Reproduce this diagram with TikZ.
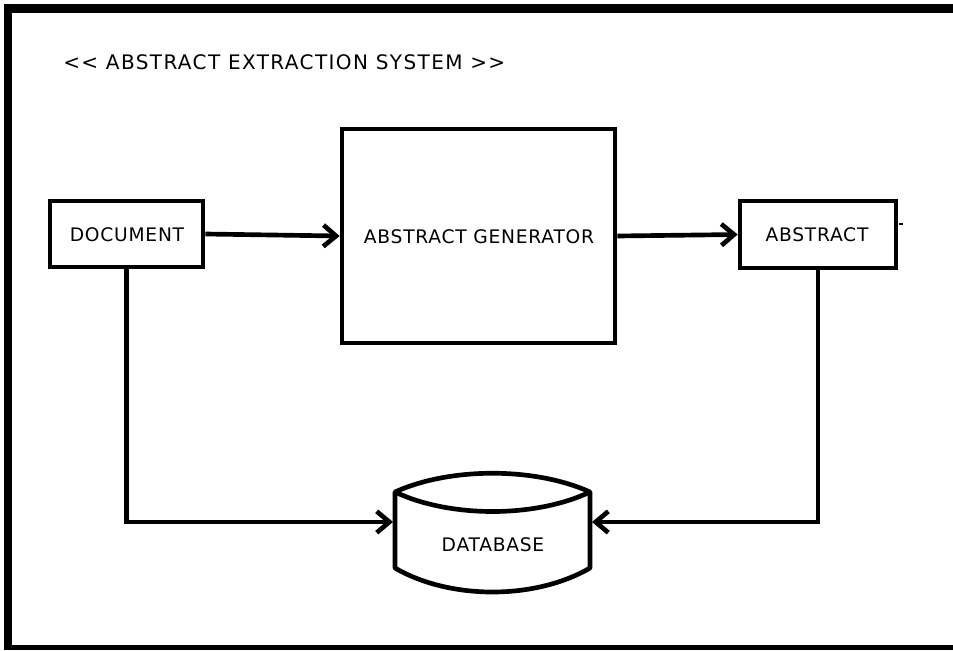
\documentclass[tikz,border=0pt]{standalone}
\usepackage{fontspec}
\setmainfont{DejaVu Sans}
\newfontfamily\labelfont[LetterSpace=4]{DejaVu Sans}
\newfontfamily\titlefont[LetterSpace=7]{DejaVu Sans}
\usetikzlibrary{arrows.meta}
\begin{document}
\begin{tikzpicture}[x=0.75pt,y=-0.75pt,
  box/.style={draw,line width=3.5pt,inner sep=0pt},
  label/.style={font=\labelfont\fontsize{14pt}{16pt}\selectfont,inner sep=0pt},
  flow/.style={line width=3.5pt,-{Straight Barb[length=9.5pt,width=16pt]}},
  link/.style={line width=3.5pt}]
\useasboundingbox (0,0) rectangle (953,650);
\fill[white] (0,0) rectangle (953,650);
% frame
\fill[black] (4,4) rectangle (953,13);
\fill[black] (4,4) rectangle (12,650);
\fill[black] (4,645) rectangle (953,650);
% title
\node[font=\titlefont\fontsize{15pt}{17pt}\selectfont,inner sep=0pt,anchor=west] (title) at (63,62) {<{}< ABSTRACT EXTRACTION SYSTEM >{}>};
% boxes (sizes in pt: px * 0.75)
\node[box,minimum width=114.75pt,minimum height=49.5pt] (doc) at (126.5,234) {};
\node[label] (doctext) at (127,235) {DOCUMENT};
\node[box,minimum width=204.75pt,minimum height=160.5pt] (gen) at (478.5,236) {};
\node[label] (gentext) at (479,237) {ABSTRACT GENERATOR};
\node[box,minimum width=117pt,minimum height=50.25pt] (abs) at (818,234.5) {};
\node[label] (abstext) at (817,235) {ABSTRACT};
% database
\coordinate (dbTL) at (395,492);
\coordinate (dbTR) at (590,492);
\coordinate (dbBL) at (395,568);
\coordinate (dbBR) at (590,568);
\draw[link,line join=round] (dbTL) .. controls (450,467) and (535,467) .. (dbTR)
  -- (dbBR) .. controls (535,600) and (450,600) .. (dbBL) -- cycle;
\draw[link] (dbTL) .. controls (450,518) and (535,518) .. (dbTR);
\node[label] (db) at (493,545) {DATABASE};
\coordinate (dbL) at (393,522);
\coordinate (dbR) at (592,522);
% connectors
\draw[flow] (doc.east) -- (gen.west);
\draw[flow] (gen.east) -- (abs.west);
\draw[flow] (doc.south) |- (dbL);
\draw[flow] (abs.south) |- (dbR);
% small stray tick beside the abstract box
\draw[line width=1pt] (899,224) -- (903,224);
\end{tikzpicture}
\end{document}
